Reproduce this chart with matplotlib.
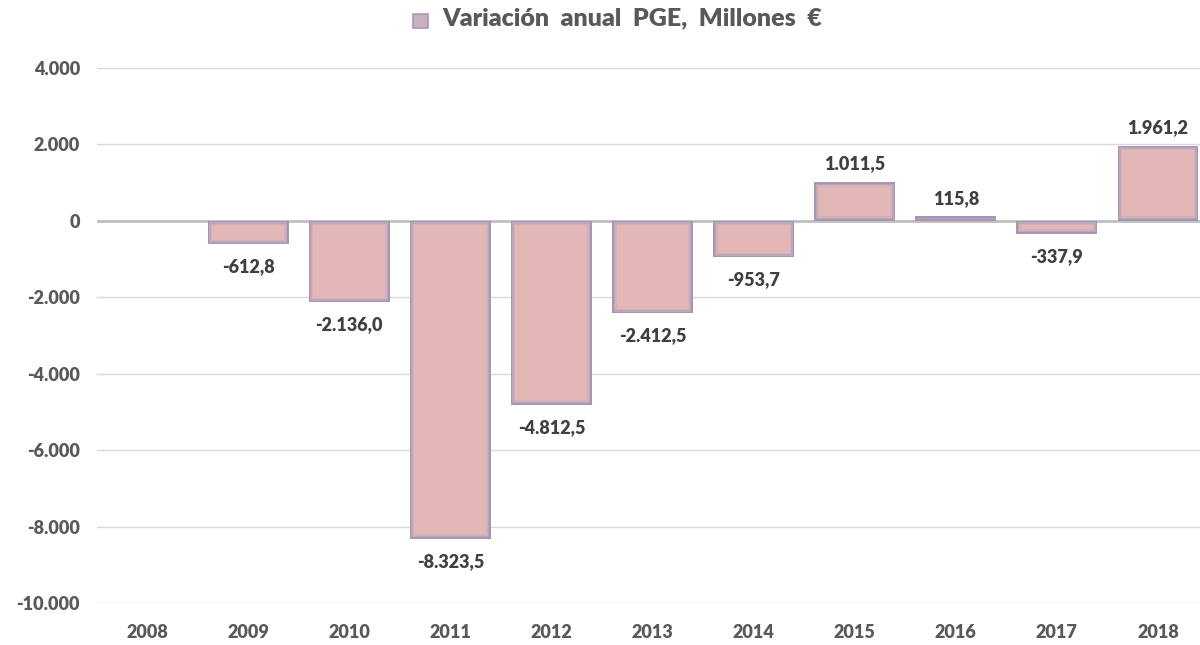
import matplotlib.pyplot as plt
from matplotlib.ticker import FuncFormatter

plt.rcParams['font.family'] = ['Lato', 'DejaVu Sans']

years = ['2008', '2009', '2010', '2011', '2012', '2013', '2014', '2015', '2016', '2017', '2018']
variacion = [0.0, -612.8, -2136.0, -8323.5, -4812.5, -2412.5, -953.7, 1011.5, 115.8, -337.9, 1961.2]
yticks = [4000, 2000, 0, -2000, -4000, -6000, -8000, -10000]

PESO = 'heavy'


def fmt_es(v, dec=0):
    s = f"{v:,.{dec}f}"
    return s.replace(',', 'X').replace('.', ',').replace('X', '.')


fig = plt.figure(figsize=(12, 6.45), dpi=100)
ax = fig.add_axes([96.5 / 1200, 42 / 645, 1112 / 1200, 535 / 645])

txt = '#595959'
x = list(range(len(years)))

ax.grid(axis='y', color='#D9D9D9', linewidth=1)
ax.set_axisbelow(True)
ax.axhline(0, color='#BFBFBF', linewidth=2, zorder=1)

# barras con borde difuminado: capas superpuestas
px_x = 1 / 101.1      # 1 px en unidades de categoría
px_y = 1000 / 38.2    # 1 px en unidades del eje y
capas = [(0, '#A696B4'), (1.5, '#BBA6BC'), (3, '#D2B1BB'), (4.5, '#E4B7B7')]
for i, v in enumerate(variacion):
    if v == 0:
        continue
    for ins, col in capas:
        h = abs(v) - 2 * ins * px_y
        if h <= 0:
            continue
        w = 0.8 - 2 * ins * px_x
        base = ins * px_y if v > 0 else -ins * px_y
        ax.bar(i, h if v > 0 else -h, width=w, bottom=base, color=col, linewidth=0, zorder=2)

for i, v in enumerate(variacion):
    if i == 0:
        continue
    if v < 0:
        ax.annotate(fmt_es(v, 1), (i, v), xytext=(0, -10), textcoords='offset points',
                    ha='center', va='top', fontsize=13, fontweight=PESO, color='#404040')
    else:
        ax.annotate(fmt_es(v, 1), (i, v), xytext=(0, 7), textcoords='offset points',
                    ha='center', va='bottom', fontsize=13, fontweight=PESO, color='#404040')

ax.set_xlim(-0.5, len(years) - 0.5)
ax.set_ylim(-10000, 4000)
ax.set_yticks(yticks)
ax.yaxis.set_major_formatter(FuncFormatter(lambda v, p: fmt_es(v)))
ax.set_xticks(x)
ax.set_xticklabels(years)
for lab in ax.get_xticklabels() + ax.get_yticklabels():
    lab.set_fontweight(PESO)
    lab.set_color(txt)
    lab.set_fontsize(13)
ax.tick_params(axis='both', length=0)
ax.tick_params(axis='y', pad=12)
ax.tick_params(axis='x', pad=15)
for s in ax.spines.values():
    s.set_visible(False)

# título con marcador de leyenda
fig.text(0.527, 0.971, 'Variación  anual  PGE,  Millones  €', ha='center', va='center',
         fontsize=18, fontweight=PESO, color=txt)
fig.patches.append(plt.Rectangle((413 / 1200, 1 - 28 / 645), 15 / 1200, 14 / 645,
                                 transform=fig.transFigure, facecolor='#C9B0C0',
                                 edgecolor='#A99AB6', linewidth=1.2))

fig.savefig('out.png', dpi=100)
